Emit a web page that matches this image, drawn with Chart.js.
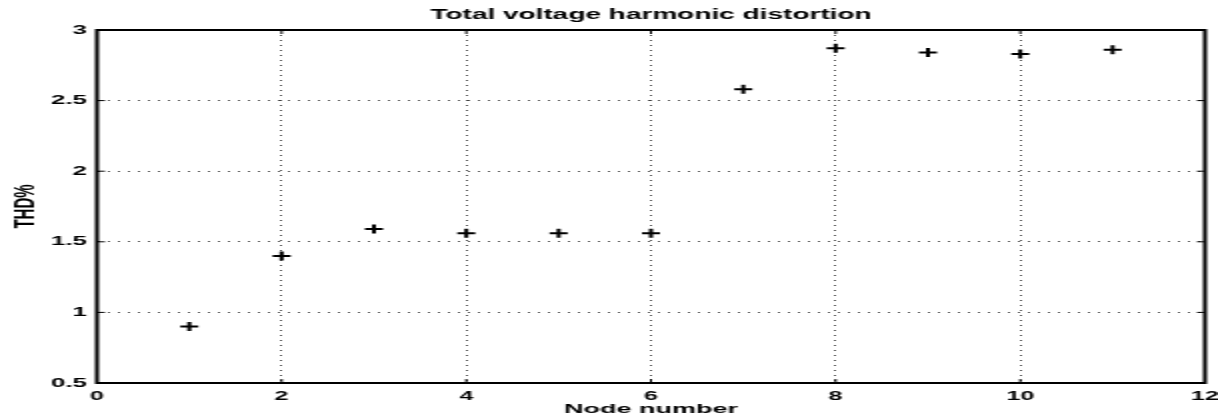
<!DOCTYPE html>
<html>
<head>
<meta charset="utf-8">
<title>Total voltage harmonic distortion</title>
<script src="https://cdn.jsdelivr.net/npm/chart.js@4.4.1/dist/chart.umd.min.js"></script>
<style>
    html, body { margin: 0; padding: 0; background: #fff; }
</style>
</head>
<body>
<!-- the original figure is a scan stretched ~2x sideways, so draw narrow and stretch -->
<canvas id="thd-chart" width="609" height="416" style="width:1218px;height:416px;display:block"></canvas>
<script>
    'use strict';

    // ============================================
    // Data
    // ============================================

    const nodeNumbers = [1, 2, 3, 4, 5, 6, 7, 8, 9, 10, 11];
    const thdPercent = [0.90, 1.40, 1.59, 1.56, 1.56, 1.56, 2.58, 2.87, 2.84, 2.83, 2.86];

    const xTickValues = [0, 2, 4, 6, 8, 10, 12];
    const yTickValues = [0.5, 1, 1.5, 2, 2.5, 3];

    const chartTitle = 'Total voltage harmonic distortion';
    const xLabel = 'Node number';
    const yLabel = 'THD%';

    // ============================================
    // Helpers
    // ============================================

    const FONT = '"Liberation Sans", Arial, sans-serif';
    const INK = '#000';
    const GRID = '#444';

    const points = nodeNumbers.map((n, i) => ({ x: n, y: thdPercent[i] }));

    // MATLAB style box around the axes with inward tick marks
    const axesBox = {
        id: 'axesBox',
        afterDatasetsDraw(chart) {
            const { ctx, chartArea: a, scales } = chart;
            const len = 4;
            ctx.save();
            ctx.strokeStyle = INK;
            ctx.lineWidth = 2;
            ctx.strokeRect(a.left, a.top, a.right - a.left, a.bottom - a.top);

            ctx.lineWidth = 1;
            ctx.beginPath();
            xTickValues.forEach(v => {
                const px = scales.x.getPixelForValue(v);
                ctx.moveTo(px, a.bottom); ctx.lineTo(px, a.bottom - len);
                ctx.moveTo(px, a.top); ctx.lineTo(px, a.top + len);
            });
            yTickValues.forEach(v => {
                const py = scales.y.getPixelForValue(v);
                ctx.moveTo(a.left, py); ctx.lineTo(a.left + len, py);
                ctx.moveTo(a.right, py); ctx.lineTo(a.right - len, py);
            });
            ctx.stroke();
            ctx.restore();
        }
    };

    // ============================================
    // Chart
    // ============================================

    new Chart(document.getElementById('thd-chart'), {
        type: 'scatter',
        data: {
            datasets: [{
                data: points,
                showLine: false,
                pointStyle: 'cross',
                pointRadius: 4.5,
                pointHoverRadius: 4.5,
                pointBorderWidth: 2,
                borderColor: INK,
                backgroundColor: INK
            }]
        },
        options: {
            responsive: false,
            animation: false,
            layout: { padding: { left: 0, right: 1.5, top: 0, bottom: 0 } },
            plugins: {
                legend: { display: false },
                tooltip: { enabled: false },
                title: {
                    display: true,
                    text: chartTitle,
                    fullSize: false,
                    color: INK,
                    font: { family: FONT, size: 14, weight: 'bold', lineHeight: 1.2 },
                    padding: { top: 6.5, bottom: 6.7 }
                }
            },
            scales: {
                x: {
                    type: 'linear',
                    min: 0,
                    max: 12,
                    afterBuildTicks(scale) {
                        scale.ticks = xTickValues.map(v => ({ value: v }));
                    },
                    afterFit(scale) {
                        scale.height = 33;
                        scale.paddingLeft = 0;
                        scale.paddingRight = 0;
                    },
                    border: { display: false, dash: [1, 4] },
                    grid: {
                        color: GRID,
                        lineWidth: 1,
                        drawTicks: false
                    },
                    ticks: {
                        color: INK,
                        padding: 6,
                        maxRotation: 0,
                        callback: v => String(v),
                        font: { family: FONT, size: 12.5, weight: 'bold' }
                    },
                    title: {
                        display: true,
                        text: xLabel,
                        color: INK,
                        padding: 0,
                        font: { family: FONT, size: 13.5, weight: 'bold', lineHeight: 1.0 }
                    }
                },
                y: {
                    type: 'linear',
                    min: 0.5,
                    max: 3,
                    afterBuildTicks(scale) {
                        scale.ticks = yTickValues.map(v => ({ value: v }));
                    },
                    afterFit(scale) {
                        scale.width = 48.5;
                    },
                    border: { display: false, dash: [1, 4] },
                    grid: {
                        color: GRID,
                        lineWidth: 1,
                        drawTicks: false
                    },
                    ticks: {
                        color: INK,
                        padding: 5,
                        callback: v => String(v),
                        font: { family: FONT, size: 13, weight: 'bold' }
                    },
                    title: {
                        display: true,
                        text: yLabel,
                        color: INK,
                        padding: { top: 4, bottom: 0 },
                        font: { family: FONT, size: 15, weight: 'bold', lineHeight: 1.2 }
                    }
                }
            }
        },
        plugins: [axesBox]
    });
</script>
</body>
</html>
